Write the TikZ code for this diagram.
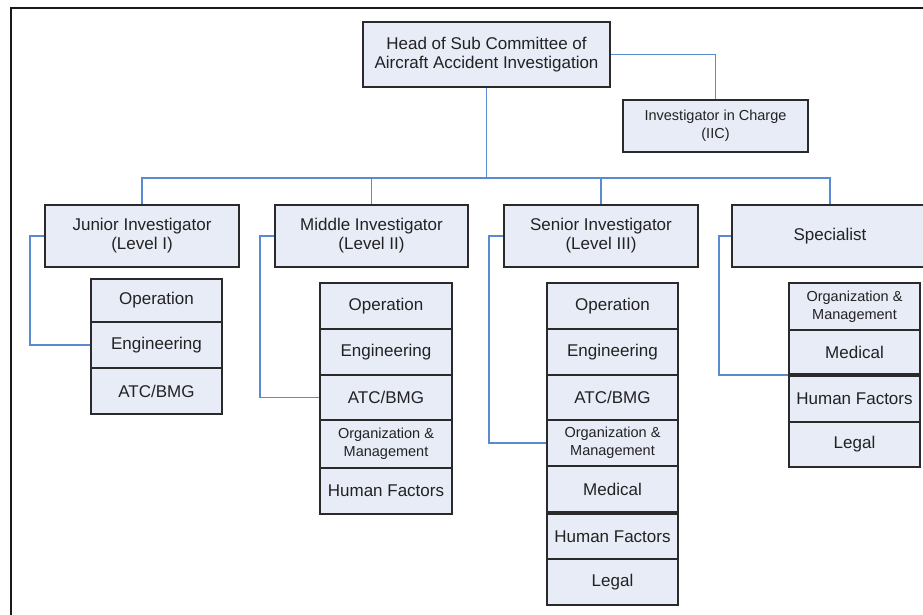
\documentclass[tikz,border=0pt]{standalone}
\usepackage{fontspec}
\setmainfont{Liberation Sans}
\definecolor{boxfill}{HTML}{E7ECF7}
\definecolor{boxline}{HTML}{2A2A2A}
\definecolor{link}{HTML}{5A8AD0}
\definecolor{txt}{HTML}{222222}
\begin{document}
\begin{tikzpicture}[x=1pt,y=-1pt,
  box/.style={draw=boxline, fill=boxfill, line width=1.5pt, inner sep=0pt, align=center,
    text=txt, font=\fontsize{17}{19}\selectfont},
  small/.style={font=\fontsize{14.5}{18}\selectfont},
  conn/.style={draw=link, line width=1.7pt}]
\useasboundingbox (0,0) rectangle (923,615);
\fill[white] (0,0) rectangle (923,615);
\draw[line width=2.2pt, black!90] (11,615) -- (11,8) -- (923,8);

% top
\node[box, minimum width=247, minimum height=65] (head) at (486.5,54.5) {Head of Sub Committee of\\Aircraft Accident Investigation};
\node[box, small, minimum width=185, minimum height=52] (iic) at (715.5,126) {Investigator in Charge\\(IIC)};

% level boxes
\node[box, minimum width=194, minimum height=62] (jun) at (142,236) {Junior Investigator\\(Level I)};
\node[box, minimum width=193, minimum height=62] (mid) at (371.5,236) {Middle Investigator\\(Level II)};
\node[box, minimum width=194, minimum height=62] (sen) at (601,236) {Senior Investigator\\(Level III)};
\node[box, minimum width=196, minimum height=62] (spe) at (830,236) {Specialist};

% junior subs
\node[box, minimum width=131, minimum height=43] (jop) at (156.5,300.5) {Operation};
\node[box, minimum width=131, minimum height=46] (jeng) at (156.5,345) {Engineering};
\node[box, minimum width=131, minimum height=46] (jatc) at (156.5,391) {ATC/BMG};

% middle subs
\node[box, minimum width=132, minimum height=46] (mop) at (386,306) {Operation};
\node[box, minimum width=132, minimum height=46] (meng) at (386,352) {Engineering};
\node[box, minimum width=132, minimum height=45] (matc) at (386,397.5) {ATC/BMG};
\node[box, small, minimum width=132, minimum height=48] (morg) at (386,444) {Organization \&\\Management};
\node[box, minimum width=132, minimum height=46] (mhf) at (386,491) {Human Factors};

% senior subs
\node[box, minimum width=131, minimum height=46] (sop) at (612.5,306) {Operation};
\node[box, minimum width=131, minimum height=46] (seng) at (612.5,352) {Engineering};
\node[box, minimum width=131, minimum height=45] (satc) at (612.5,397.5) {ATC/BMG};
\node[box, small, minimum width=131, minimum height=46] (sorg) at (612.5,443) {Organization \&\\Management};
\node[box, minimum width=131, minimum height=46] (smed) at (612.5,489) {Medical};
\node[box, minimum width=131, minimum height=45] (shf) at (612.5,536.5) {Human Factors};
\node[box, minimum width=131, minimum height=46] (sleg) at (612.5,582) {Legal};

% specialist subs
\node[box, small, minimum width=131, minimum height=47] (porg) at (854.5,306.5) {Organization \&\\Management};
\node[box, minimum width=131, minimum height=44] (pmed) at (854.5,352) {Medical};
\node[box, minimum width=131, minimum height=46] (phf) at (854.5,399) {Human Factors};
\node[box, minimum width=131, minimum height=45] (pleg) at (854.5,444.5) {Legal};

% connectors
\coordinate (bus) at (486.5,178);
\draw[conn] (head.east) -| (iic.north);
\draw[conn] (head.south) -- (bus);
\draw[conn] (jun.north) |- (bus) -| (spe.north);
\draw[conn] (mid.north) -- (mid.north |- bus);
\draw[conn] (sen.north) -- (sen.north |- bus);

\draw[conn] (jun.west) -- ++(-14,0) |- (jeng.west);
\draw[conn] (mid.west) -- ++(-14,0) |- (matc.west);
\draw[conn] (sen.west) -- ++(-14,0) |- (sorg.west);
\draw[conn] (spe.west) -- ++(-12,0) |- (phf.north west);
\end{tikzpicture}
\end{document}
